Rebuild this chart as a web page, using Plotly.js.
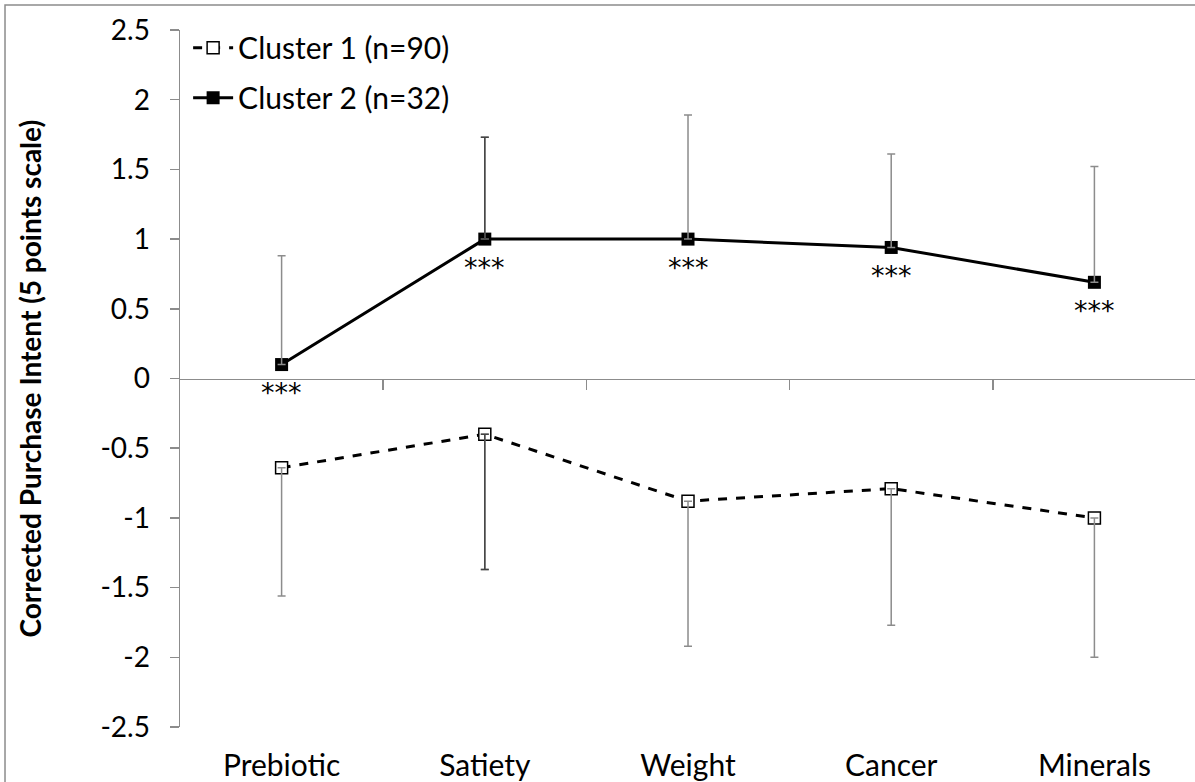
<!DOCTYPE html>
<html>
<head>
<meta charset="utf-8">
<script src="https://cdn.plot.ly/plotly-3.0.1.min.js"></script>
<style>html,body{margin:0;padding:0;background:#fff;}#chart{width:1195px;height:782px;}</style>
</head>
<body>
<div id="chart"></div>
<script>
// ---- data ----
const categories = ["Prebiotic", "Satiety", "Weight", "Cancer", "Minerals"];
const cluster1Name = "Cluster 1 (n=90)";
const cluster2Name = "Cluster 2 (n=32)";
const cluster1Mean = [-0.64, -0.40, -0.88, -0.79, -1.00];
const cluster1ErrMinus = [0.92, 0.97, 1.04, 0.98, 1.00];
const cluster2Mean = [0.10, 1.00, 1.00, 0.94, 0.69];
const cluster2ErrPlus = [0.78, 0.73, 0.89, 0.67, 0.83];
const signif = ["***", "***", "***", "***", "***"];
const yTickVals = [2.5, 2, 1.5, 1, 0.5, 0, -0.5, -1, -1.5, -2, -2.5];
const yTickText = yTickVals.map(v => String(v));
const darkIdx = 1; // Satiety error bars drawn darker

const FONT = "Lato, 'Open Sans', sans-serif";
const GRAY = "#8c8c8c";
const zeros = categories.map(() => 0);
const idx = categories.map((_, i) => i);

const traces = [
  { x: categories, y: cluster1Mean, name: cluster1Name, legendgroup: "c1",
    mode: "lines+markers", type: "scatter",
    line: { color: "#000", width: 3, dash: "dash" },
    marker: { symbol: "square", size: 12, color: "#fff", line: { color: "#000", width: 1.5 } } },
  { x: idx, y: cluster1Mean, xaxis: "x2", showlegend: false, hoverinfo: "skip",
    mode: "markers", type: "scatter", marker: { size: 1, color: "rgba(0,0,0,0)" },
    error_y: { type: "data", symmetric: false, array: zeros, arrayminus: cluster1ErrMinus,
      color: GRAY, thickness: 1.5, width: 4 } },
  { x: [idx[darkIdx]], y: [cluster1Mean[darkIdx]], xaxis: "x2", showlegend: false, hoverinfo: "skip",
    mode: "markers", type: "scatter", marker: { size: 1, color: "rgba(0,0,0,0)" },
    error_y: { type: "data", symmetric: false, array: [0], arrayminus: [cluster1ErrMinus[darkIdx]],
      color: "#444", thickness: 1.5, width: 4 } },
  { x: idx, y: cluster2Mean, xaxis: "x2", showlegend: false, hoverinfo: "skip",
    mode: "markers", type: "scatter", marker: { size: 1, color: "rgba(0,0,0,0)" },
    error_y: { type: "data", symmetric: false, array: cluster2ErrPlus, arrayminus: zeros,
      color: GRAY, thickness: 1.5, width: 4 } },
  { x: [idx[darkIdx]], y: [cluster2Mean[darkIdx]], xaxis: "x2", showlegend: false, hoverinfo: "skip",
    mode: "markers", type: "scatter", marker: { size: 1, color: "rgba(0,0,0,0)" },
    error_y: { type: "data", symmetric: false, array: [cluster2ErrPlus[darkIdx]], arrayminus: [0],
      color: "#444", thickness: 1.5, width: 4 } },
  { x: categories, y: cluster2Mean, name: cluster2Name, legendgroup: "c2",
    mode: "lines+markers", type: "scatter",
    line: { color: "#000", width: 3 },
    marker: { symbol: "square", size: 13, color: "#000" } }
];

const annotations = categories.map((c, i) => ({
  x: c, y: cluster2Mean[i], xref: "x", yref: "y", text: signif[i], showarrow: false,
  yshift: -28, font: { family: "'DejaVu Sans', sans-serif", size: 27, color: "#000" }
}));
annotations.push({
  x: -0.1478, y: 0.5, xref: "paper", yref: "paper", xanchor: "center", yanchor: "middle",
  text: "<b>Corrected Purchase Intent (5 points scale)</b>", textangle: -90, showarrow: false,
  font: { family: FONT, size: 28, color: "#000" }
});

const xr = [-0.5, 4.495];
const layout = {
  width: 1195, height: 782,
  margin: { l: 180, r: 0, t: 30, b: 55, pad: 0 },
  paper_bgcolor: "#fff", plot_bgcolor: "#fff",
  font: { family: FONT, color: "#000" },
  showlegend: true,
  legend: { x: 0.008, y: 1.012, xanchor: "left", yanchor: "top", bgcolor: "rgba(0,0,0,0)",
    font: { family: FONT, size: 30, color: "#000" }, tracegroupgap: 8, traceorder: "grouped",
    itemwidth: 40 },
  xaxis: { type: "category", range: xr, showline: false, showgrid: false, zeroline: false,
    ticks: "outside", ticklen: 12, tickcolor: "rgba(0,0,0,0)",
    tickfont: { family: FONT, size: 30, color: "#000" }, fixedrange: true },
  xaxis2: { type: "linear", overlaying: "x", anchor: "free", position: 0.5, range: xr,
    tickvals: [0.5, 1.5, 2.5, 3.5], ticks: "outside", ticklen: 10, tickcolor: GRAY, tickwidth: 1.5,
    showticklabels: false, showline: true, linecolor: GRAY, linewidth: 1.5,
    showgrid: false, zeroline: false },
  yaxis: { range: [-2.5, 2.5], tickvals: yTickVals, ticktext: yTickText,
    ticks: "outside", ticklen: 9, tickcolor: GRAY, tickwidth: 1.5,
    showline: true, linecolor: GRAY, linewidth: 1.5, showgrid: false, zeroline: false,
    ticklabelstandoff: 14, tickfont: { family: FONT, size: 28, color: "#000" } },
  shapes: [{ type: "rect", xref: "paper", yref: "paper", x0: -0.1724, x1: 1.05, y0: -0.2, y1: 1.0359,
    line: { color: GRAY, width: 1.5 }, fillcolor: "rgba(0,0,0,0)", layer: "below" }],
  annotations: annotations
};

Plotly.newPlot("chart", traces, layout, { displayModeBar: false, staticPlot: true });
</script>
</body>
</html>
